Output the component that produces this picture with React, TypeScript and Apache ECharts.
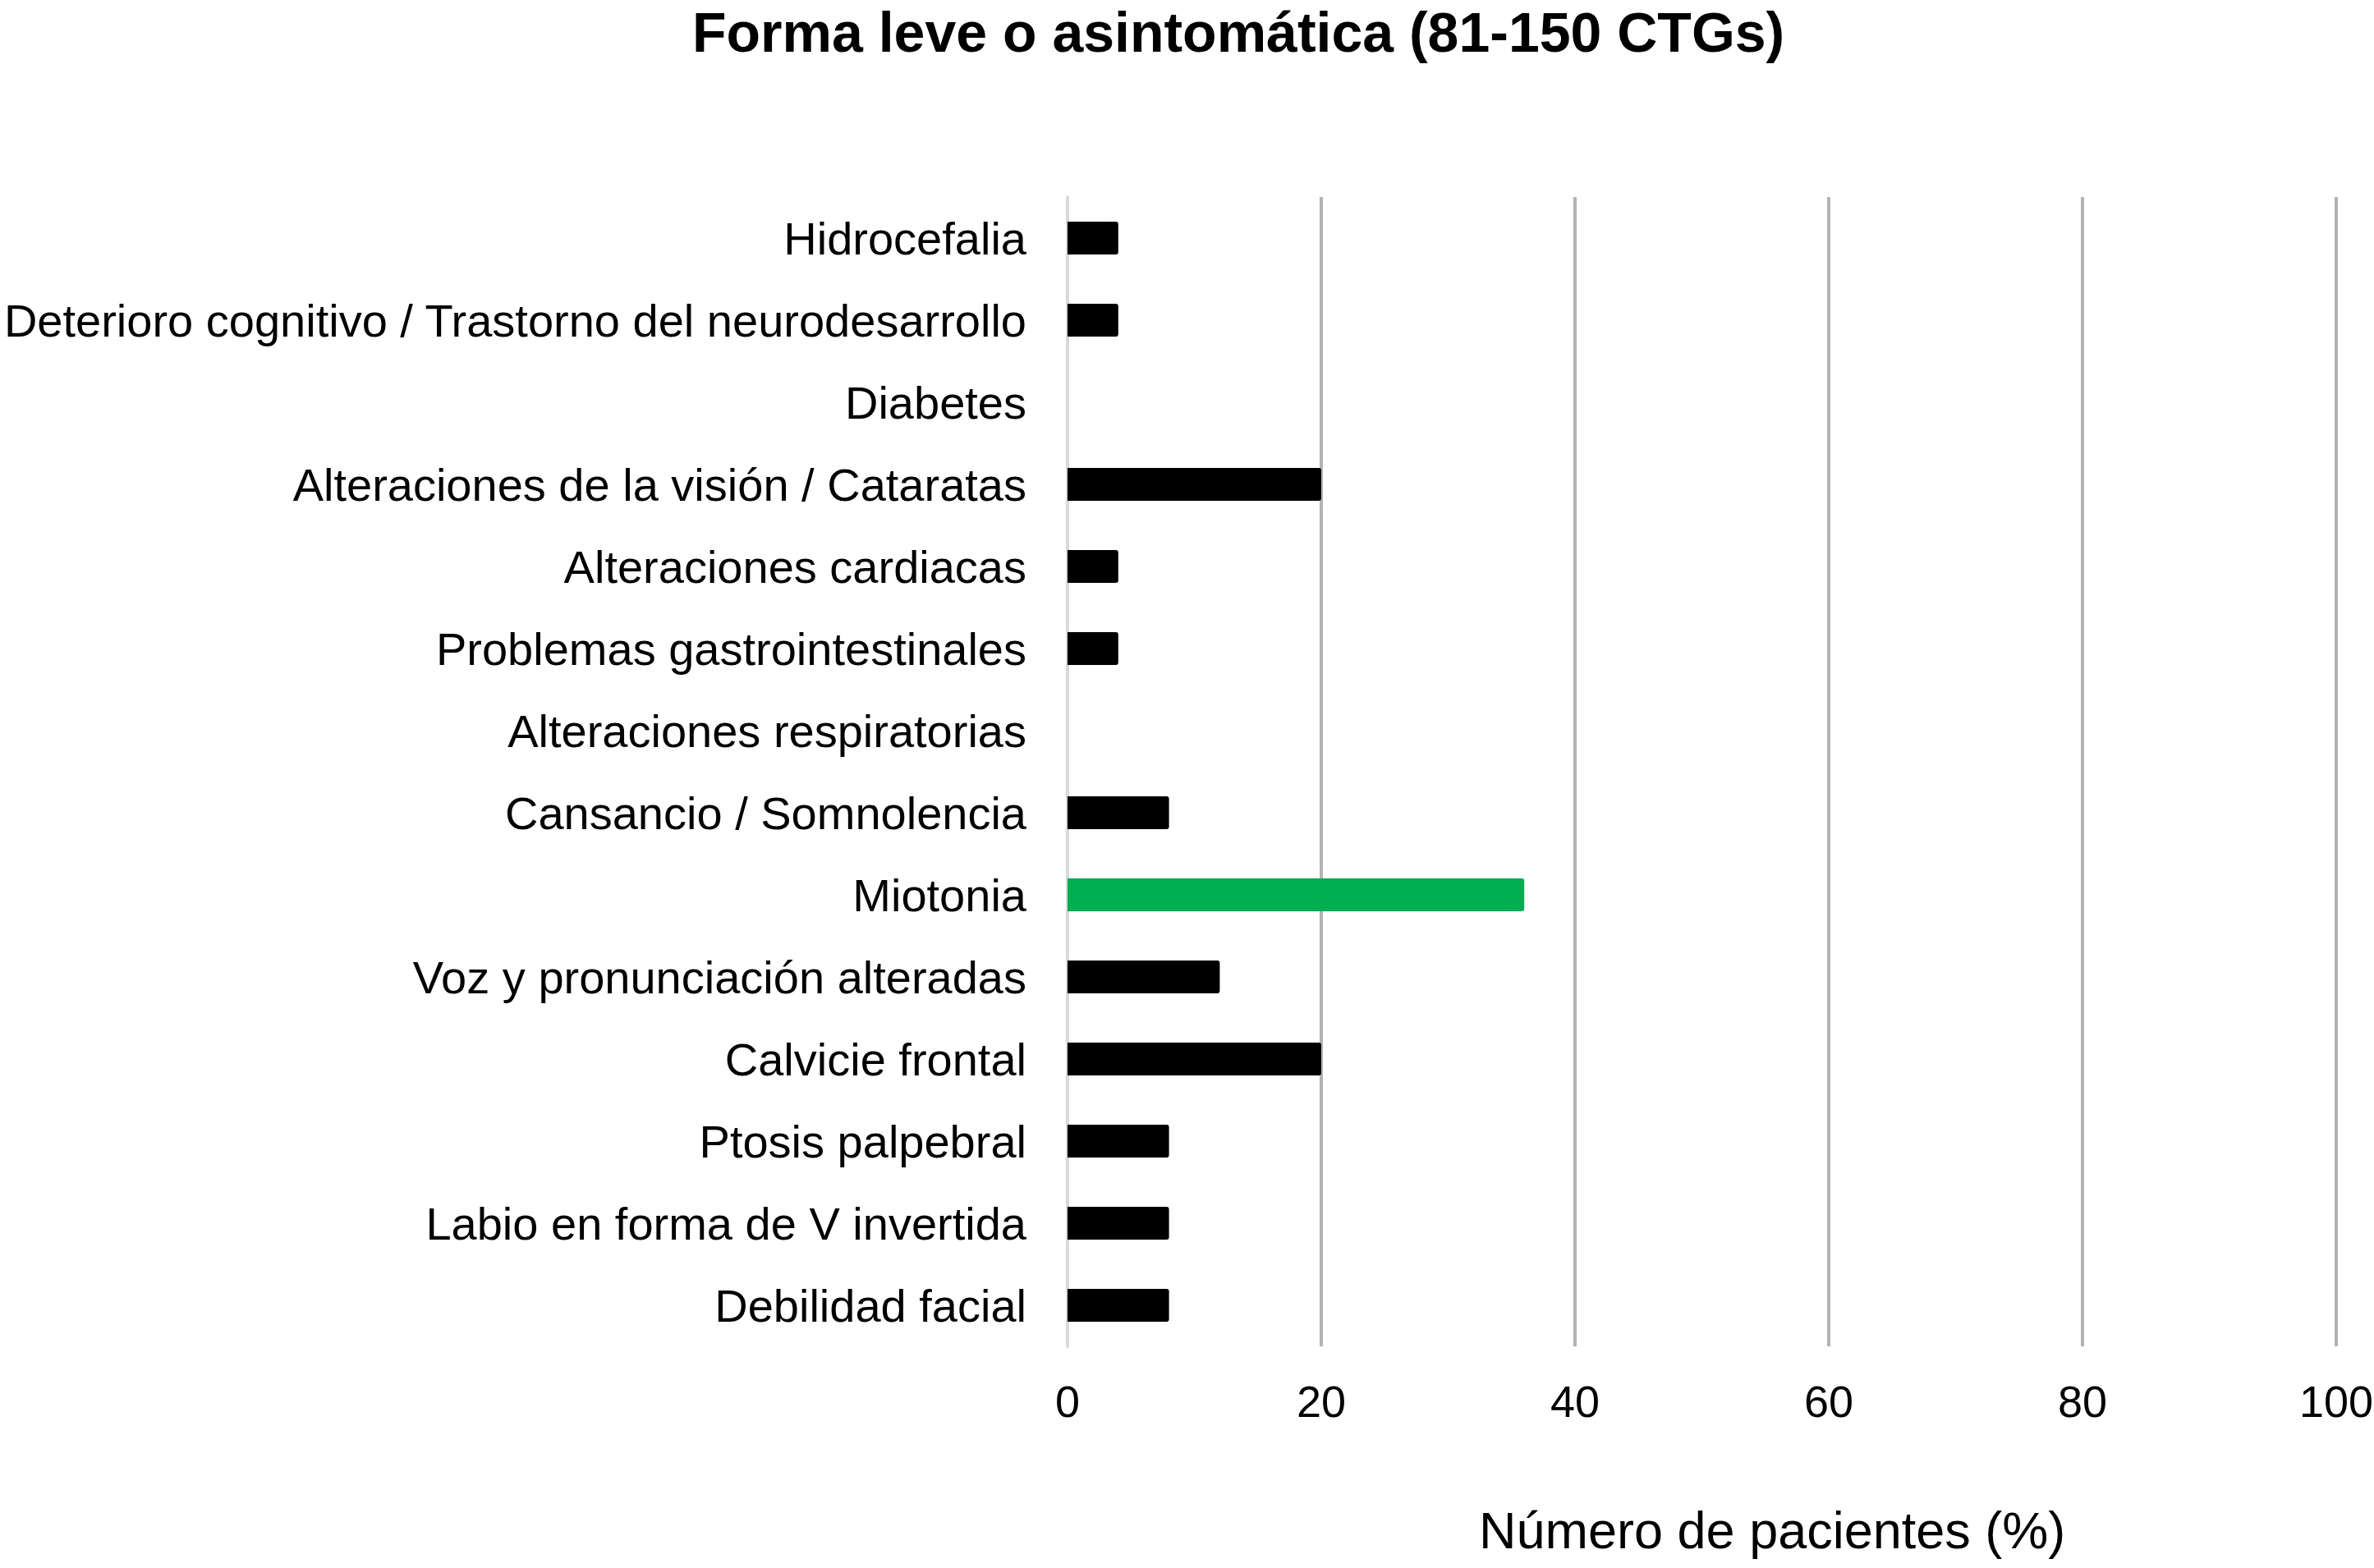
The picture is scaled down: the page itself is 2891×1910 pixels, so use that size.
import React, { useEffect, useRef } from "react";
import * as echarts from "echarts";

const categories = [
  "Hidrocefalia",
  "Deterioro cognitivo / Trastorno del neurodesarrollo",
  "Diabetes",
  "Alteraciones de la visión / Cataratas",
  "Alteraciones cardiacas",
  "Problemas gastrointestinales",
  "Alteraciones respiratorias",
  "Cansancio / Somnolencia",
  "Miotonia",
  "Voz y pronunciación alteradas",
  "Calvicie frontal",
  "Ptosis palpebral",
  "Labio en forma de V invertida",
  "Debilidad facial",
];
const values = [4, 4, 0, 20, 4, 4, 0, 8, 36, 12, 20, 8, 8, 8];
const highlighted = ["Miotonia"];
const xTicks = [0, 20, 40, 60, 80, 100];

const titleText = "Forma leve o asintomática (81-150 CTGs)";
const xAxisName = "Número de pacientes (%)";

const FONT = "'Liberation Sans', Arial, Helvetica, sans-serif";

export default function App() {
  const ref = useRef<HTMLDivElement>(null);
  useEffect(() => {
    if (!ref.current) return;
    const chart = echarts.init(ref.current, undefined, { renderer: "svg" });
    chart.setOption({
      animation: false,
      backgroundColor: "#ffffff",
      title: {
        text: titleText,
        left: 838,
        top: 0,
        textStyle: { fontFamily: FONT, fontSize: 68, fontWeight: "bold", color: "#000" },
      },
      grid: {
        left: 1300,
        right: 46,
        top: 240,
        bottom: 270,
        containLabel: false,
        outerBoundsMode: "none",
      },
      xAxis: {
        type: "value",
        min: xTicks[0],
        max: xTicks[xTicks.length - 1],
        interval: 20,
        axisLine: { show: false },
        axisTick: { show: false },
        splitLine: { show: true, lineStyle: { color: "#b3b3b3", width: 4 } },
        axisLabel: {
          fontFamily: FONT,
          fontSize: 54,
          color: "#000",
          margin: 40,
          showMinLabel: true,
          showMaxLabel: true,
        },
      },
      yAxis: {
        type: "category",
        data: categories,
        inverse: true,
        axisLine: { show: true, lineStyle: { color: "#d9d9d9", width: 4 } },
        axisTick: { show: false },
        axisLabel: { fontFamily: FONT, fontSize: 56, color: "#000", margin: 50 },
      },
      graphic: [
        {
          type: "text",
          left: 1801,
          top: 1832,
          style: { text: xAxisName, fontFamily: FONT, fontSize: 63, fill: "#000" },
        },
      ],
      series: [
        {
          type: "bar",
          barWidth: 40,
          data: categories.map((c, i) => ({
            value: values[i],
            itemStyle: {
              color: highlighted.includes(c) ? "#00b050" : "#000000",
              borderRadius: [0, 3, 3, 0],
            },
          })),
        },
      ],
    });
    return () => chart.dispose();
  }, []);
  return (
    <div
      ref={ref}
      style={{ position: "fixed", left: 0, top: 0, width: 2891, height: 1910, background: "#fff" }}
    />
  );
}
